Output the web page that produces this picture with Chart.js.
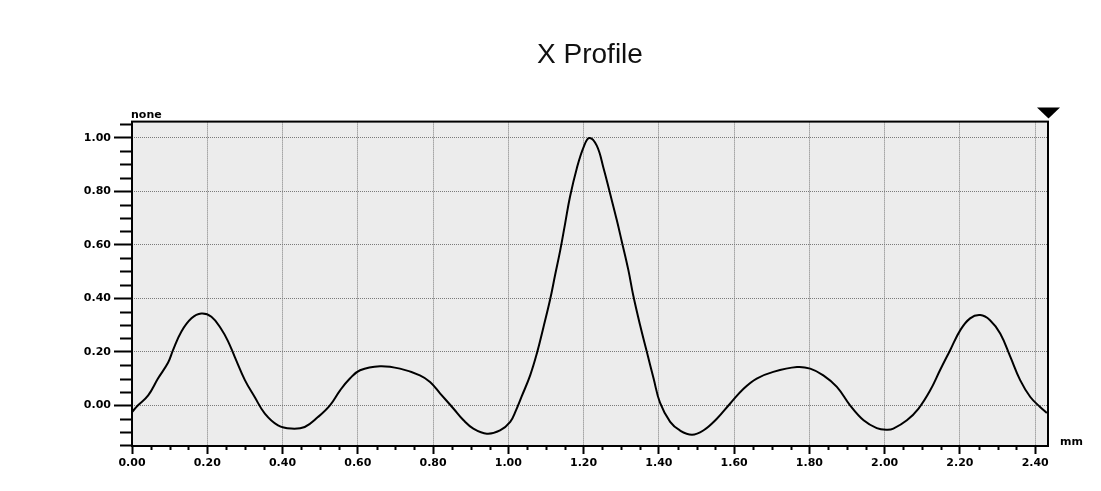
<!DOCTYPE html>
<html>
<head>
<meta charset="utf-8">
<script src="https://cdn.jsdelivr.net/npm/chart.js@4.4.1/dist/chart.umd.min.js"></script>
<style>
    html, body { margin: 0; padding: 0; background: #ffffff; }
    #wrap { width: 1101px; height: 491px; }
</style>
</head>
<body>
<div id="wrap"><canvas id="perfil" width="1101" height="491"></canvas></div>
<script>
// ================= DATOS =================

const titulo = "X Profile";
const unidadY = "none";
const unidadX = "mm";

// posicion (mm)
const posX = [
    0.000, 0.016, 0.043, 0.069, 0.096, 0.109, 0.131, 0.158, 0.184, 0.211,
    0.237, 0.255, 0.273, 0.300, 0.326, 0.353, 0.388, 0.423, 0.459, 0.494,
    0.526, 0.553, 0.579, 0.606, 0.659, 0.712, 0.765, 0.792, 0.819, 0.854,
    0.881, 0.907, 0.943, 0.978, 1.005, 1.020, 1.036, 1.058, 1.076, 1.093,
    1.111, 1.124, 1.138, 1.151, 1.164, 1.182, 1.200, 1.215, 1.235, 1.253,
    1.270, 1.288, 1.301, 1.319, 1.332, 1.350, 1.368, 1.386, 1.403, 1.430,
    1.456, 1.488, 1.518, 1.554, 1.589, 1.625, 1.660, 1.704, 1.767, 1.802,
    1.837, 1.873, 1.908, 1.944, 1.979, 2.006, 2.023, 2.059, 2.090, 2.121,
    2.147, 2.174, 2.201, 2.227, 2.254, 2.280, 2.307, 2.334, 2.360, 2.387,
    2.413, 2.431
];

// intensidad normalizada
const valorY = [
    -0.025, 0.000, 0.037, 0.100, 0.160, 0.206, 0.275, 0.325, 0.343, 0.331,
    0.285, 0.240, 0.181, 0.094, 0.031, -0.031, -0.075, -0.087, -0.081, -0.044,
    0.000, 0.056, 0.100, 0.131, 0.146, 0.137, 0.112, 0.087, 0.044, -0.012,
    -0.056, -0.087, -0.106, -0.094, -0.062, -0.020, 0.035, 0.112, 0.195, 0.290,
    0.395, 0.485, 0.580, 0.680, 0.780, 0.886, 0.965, 0.999, 0.970, 0.886,
    0.793, 0.693, 0.615, 0.505, 0.410, 0.300, 0.200, 0.100, 0.010, -0.062,
    -0.094, -0.110, -0.094, -0.050, 0.006, 0.062, 0.100, 0.125, 0.143, 0.137,
    0.112, 0.069, 0.000, -0.056, -0.085, -0.091, -0.087, -0.056, -0.012, 0.056,
    0.131, 0.206, 0.281, 0.325, 0.337, 0.318, 0.268, 0.181, 0.094, 0.031,
    -0.006, -0.029
];

const rangoX = [0, 2.434];
const rangoY = [-0.152, 1.06];
const pasoMayor = 0.2;
const pasoMenor = 0.05;

const puntos = posX.map((x, i) => ({ x: x, y: valorY[i] }));

const fuenteEje = { family: "DejaVu Sans", size: 11, weight: "bold" };

// ================= PLUGIN DECORACION =================

const decoracion = {
    id: "decoracion",

    beforeDraw(chart)
    {
        const ctx = chart.ctx;
        const a = chart.chartArea;

        ctx.save();
        ctx.fillStyle = "#ffffff";
        ctx.fillRect(0, 0, chart.width, chart.height);
        ctx.fillStyle = "#ececec";
        ctx.fillRect(a.left, a.top, a.right - a.left, a.bottom - a.top);
        ctx.restore();
    },

    afterDraw(chart)
    {
        const ctx = chart.ctx;
        const a = chart.chartArea;
        const sx = chart.scales.x;
        const sy = chart.scales.y;

        ctx.save();
        ctx.strokeStyle = "#000000";
        ctx.lineWidth = 2;

        // ticks menores eje Y
        ctx.beginPath();
        for (let i = Math.ceil(rangoY[0] / pasoMenor); i * pasoMenor <= rangoY[1]; i++)
        {
            if (i % 4 === 0) continue;
            const y = Math.round(sy.getPixelForValue(i * pasoMenor)) + 0.5;
            ctx.moveTo(a.left - 12, y);
            ctx.lineTo(a.left, y);
        }
        // ticks menores eje X
        for (let i = 0; i * pasoMenor <= rangoX[1]; i++)
        {
            if (i % 4 === 0) continue;
            const x = Math.round(sx.getPixelForValue(i * pasoMenor)) + 0.5;
            ctx.moveTo(x, a.bottom);
            ctx.lineTo(x, a.bottom + 4);
        }
        ctx.stroke();

        // marco
        ctx.strokeRect(a.left, a.top, a.right - a.left, a.bottom - a.top);

        // marcador triangular
        ctx.fillStyle = "#000000";
        ctx.beginPath();
        ctx.moveTo(a.right - 11, a.top - 14);
        ctx.lineTo(a.right + 12, a.top - 14);
        ctx.lineTo(a.right + 0.5, a.top - 3);
        ctx.closePath();
        ctx.fill();

        // unidades
        ctx.font = "bold 11px 'DejaVu Sans'";
        ctx.textBaseline = "alphabetic";
        ctx.textAlign = "left";
        ctx.fillText(unidadY, a.left - 1, a.top - 4);
        ctx.fillText(unidadX, a.right + 12, a.bottom - 1);

        ctx.restore();
    }
};

// ================= GRAFICA =================

new Chart(document.getElementById("perfil"), {
    type: "line",
    data: {
        datasets: [
            {
                label: titulo,
                data: puntos,
                borderColor: "#000000",
                borderWidth: 2,
                pointRadius: 0,
                tension: 0.4,
                fill: false
            }
        ]
    },
    options: {
        responsive: false,
        animation: false,
        layout: {
            padding: { left: 0, right: 53, top: 0, bottom: 0 }
        },
        plugins: {
            legend: { display: false },
            tooltip: { enabled: false },
            title: {
                display: true,
                text: titulo,
                fullSize: false,
                color: "#111111",
                font: { family: "Liberation Sans", size: 28, weight: "normal", lineHeight: 1.2 },
                padding: { top: 38, bottom: 50 }
            }
        },
        scales: {
            x: {
                type: "linear",
                position: "bottom",
                min: rangoX[0],
                max: rangoX[1],
                afterFit(scale) { scale.height = 45; },
                border: { display: false, dash: [1, 1] },
                grid: {
                    color: "#7a7a7a",
                    lineWidth: 1,
                    tickLength: 8,
                    tickColor: "#000000",
                    tickWidth: 2
                },
                ticks: {
                    stepSize: pasoMayor,
                    includeBounds: false,
                    autoSkip: false,
                    maxRotation: 0,
                    padding: 3,
                    color: "#000000",
                    font: fuenteEje,
                    callback: v => Number(v).toFixed(2)
                }
            },
            y: {
                type: "linear",
                min: rangoY[0],
                max: rangoY[1],
                afterFit(scale) { scale.width = 132; },
                border: { display: false, dash: [1, 1] },
                grid: {
                    color: "#7a7a7a",
                    lineWidth: 1,
                    tickLength: 18,
                    tickColor: "#000000",
                    tickWidth: 2
                },
                ticks: {
                    stepSize: pasoMayor,
                    includeBounds: false,
                    padding: 3,
                    color: "#000000",
                    font: fuenteEje,
                    callback: v => Number(v).toFixed(2)
                }
            }
        }
    },
    plugins: [decoracion]
});
</script>
</body>
</html>
